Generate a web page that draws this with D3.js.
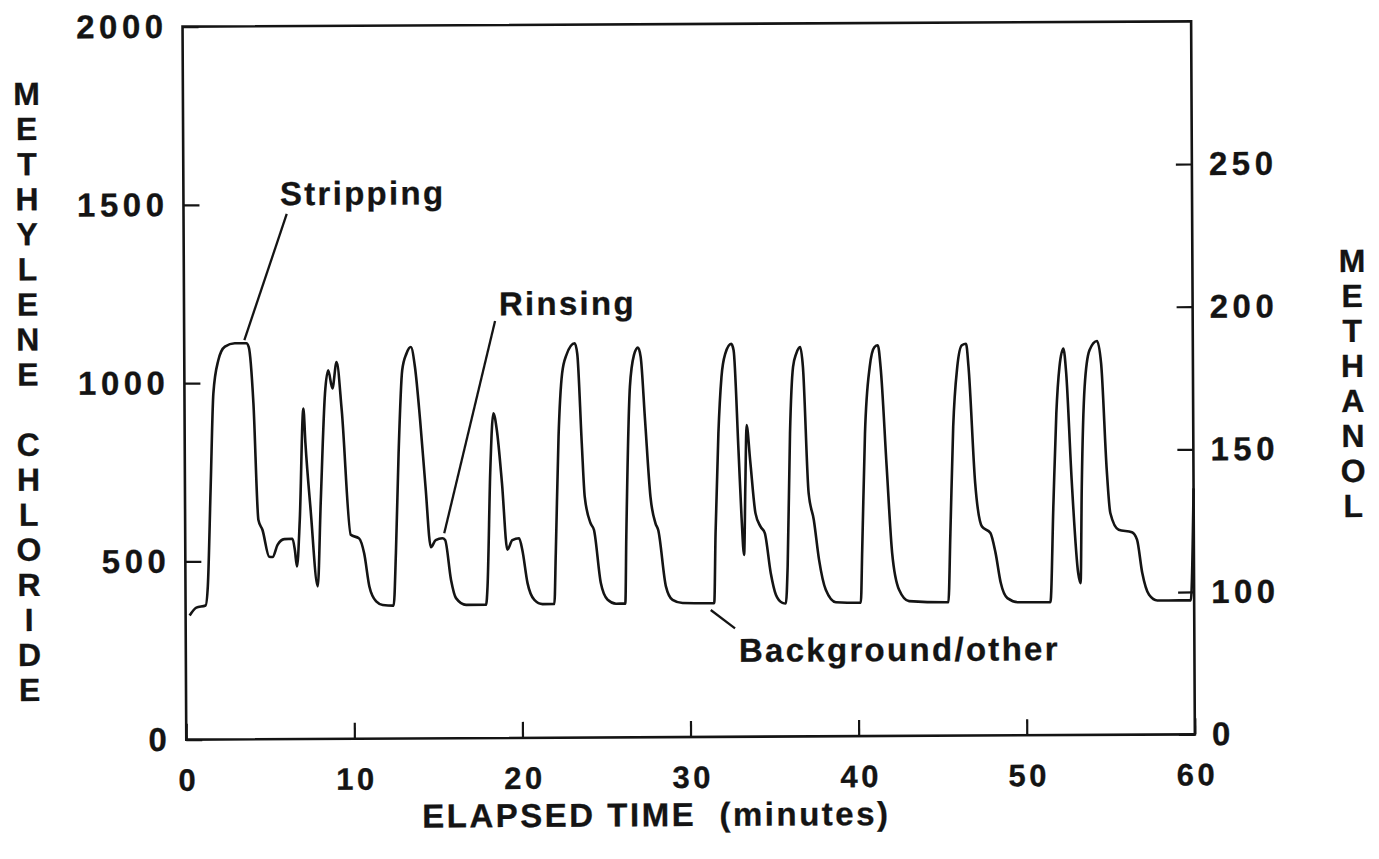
<!DOCTYPE html>
<html>
<head>
<meta charset="utf-8">
<script src="https://cdn.jsdelivr.net/npm/d3@7"></script>
<style>
body { margin: 0; background: #fff; }
text { font-family: "Liberation Sans", Arial, Helvetica, sans-serif; font-weight: bold; fill: #141414; stroke: #141414; stroke-width: 0.3px; }
</style>
</head>
<body>
<svg id="chart" width="1379" height="859"></svg>
<script>
// elapsed time (minutes)
var time = [0.24,0.64,1.19,1.33,1.53,1.72,2.02,2.42,3.01,3.70,
  3.84,4.10,4.36,4.60,4.99,5.19,5.49,5.89,6.38,6.52,
  6.64,6.82,7.07,7.18,7.47,7.87,8.07,8.36,8.56,8.80,
  9.06,9.35,9.85,10.34,10.64,10.94,11.34,11.73,12.38,12.53,
  12.72,12.96,13.22,13.48,13.72,14.01,14.31,14.61,14.90,15.30,
  15.46,15.80,16.09,16.69,17.88,17.97,18.17,18.37,18.57,18.86,
  19.16,19.46,19.86,20.05,20.35,20.75,21.24,21.94,22.04,22.24,
  22.47,22.73,23.23,23.38,23.62,23.78,24.12,24.32,24.71,25.11,
  25.61,26.16,26.24,26.50,26.75,26.99,27.15,27.39,27.69,27.98,
  28.14,28.58,28.97,29.57,31.45,31.55,31.75,31.95,32.18,32.54,
  32.68,32.94,33.10,33.24,33.34,33.43,33.63,33.93,34.23,34.48,
  34.82,35.12,35.51,35.71,35.83,36.01,36.21,36.40,36.64,36.80,
  37.10,37.40,37.70,38.09,38.69,40.17,40.27,40.47,40.77,41.06,
  41.26,41.42,41.75,42.05,42.45,43.04,45.38,45.52,45.72,45.98,
  46.26,46.51,46.65,47.01,47.40,47.90,48.20,48.50,48.89,49.58,
  51.45,51.66,51.86,52.06,52.30,52.46,52.75,53.11,53.25,53.35,
  53.55,53.85,54.30,54.54,54.84,55.04,55.53,56.32,56.62,56.92,
  57.32,57.81,59.10,59.80,60.00];

// methylene chloride reading (left axis units)
var methylene = [348,370,376,430,709,971,1063,1102,1111,1111,
  1100,942,615,587,512,511,545,561,562,530,
  484,614,927,830,642,428,661,969,1034,983,
  1057,922,572,562,520,427,385,375,373,521,
  800,1033,1080,1098,1042,893,706,536,556,561,
  556,444,393,374,374,426,752,911,864,715,
  528,555,560,527,434,387,375,375,518,844,
  1021,1073,1106,1076,825,675,601,582,433,386,
  375,375,563,983,1072,1093,1067,890,674,600,
  581,423,385,376,375,571,851,1009,1074,1102,
  1084,804,617,510,711,874,776,627,589,571,
  459,398,375,373,478,850,1036,1073,1092,1036,
  682,607,495,411,376,374,523,849,1035,1091,
  1096,1035,755,513,410,378,374,568,866,1034,
  1095,1099,1034,708,586,568,512,428,385,373,
  373,651,903,1033,1084,1014,716,454,426,696,
  976,1079,1105,1041,743,622,575,568,547,454,
  392,376,376,376,690];

var xTicks = [0,10,20,30,40,50,60];
var leftTicks = [0,500,1000,1500,2000];
var rightTicks = [0,100,150,200,250];
var leftTitle = "METHYLENE CHLORIDE";
var rightTitle = "METHANOL";
var xTitle = "ELAPSED TIME  (minutes)";

// annotation: label, where the label starts (t, v), leader line from -> to
var noteLabels = ["Stripping", "Rinsing", "Background/other"];
var noteAt = [[5.74,1498],[18.73,1186],[32.9,210]];
var noteFrom = [[6.14,1473],[18.5,1170],[31.24,356]];
var noteTo = [[3.58,1120],[15.41,575],[32.68,304]];

var ink = "#141414";
var plot = {left: 184.4, right: 1193, top: 24, bottom: 737};

var x = d3.scaleLinear().domain([0,60]).range([plot.left, plot.right]);
var yLeft = d3.scaleLinear().domain([0,2000]).range([plot.bottom, plot.top]);
// the methanol axis is broken: 0 sits at the bottom, 100..300 is linear
var yRight = d3.scaleLinear().domain([0,100,300]).range([plot.bottom, 594.6, plot.top]);

var svg = d3.select('#chart');
svg.append('rect').attr('width',1379).attr('height',859).attr('fill','#fff');

// the scanned page is a touch crooked
var g = svg.append('g').attr('transform','rotate(-0.3,689,381)');

function styleAxis(sel, size, spacing) {
    sel.select('.domain').remove();
    sel.attr('font-family', null).attr('font-size', size);
    sel.selectAll('.tick line').attr('stroke', ink).attr('stroke-width', 2.2);
    sel.selectAll('.tick text').style('letter-spacing', spacing + 'px');
}

var gl = g.append('g')
    .attr('transform','translate(' + plot.left + ',0)')
    .call(d3.axisLeft(yLeft).tickValues(leftTicks).tickFormat(d3.format('d'))
        .tickSizeInner(-16).tickSizeOuter(0).tickPadding(15));
styleAxis(gl, 33, 4.5);

var gr = g.append('g')
    .attr('transform','translate(' + plot.right + ',0)')
    .call(d3.axisRight(yRight).tickValues(rightTicks).tickFormat(d3.format('d'))
        .tickSizeInner(-16).tickSizeOuter(0).tickPadding(17));
styleAxis(gr, 33, 4.5);

var gb = g.append('g')
    .attr('transform','translate(0,' + plot.bottom + ')')
    .call(d3.axisBottom(x).tickValues(xTicks).tickFormat(d3.format('d'))
        .tickSizeInner(-16).tickSizeOuter(0).tickPadding(29));
styleAxis(gb, 31, 3.5);
gb.selectAll('.tick text').attr('dx', '1.8');

g.append('rect')
    .attr('x', plot.left).attr('y', plot.top)
    .attr('width', plot.right - plot.left).attr('height', plot.bottom - plot.top)
    .attr('fill','none').attr('stroke', ink).attr('stroke-width', 2.6);

var line = d3.line()
    .x(function(d) { return x(d[0]); })
    .y(function(d) { return yLeft(d[1]); })
    .curve(d3.curveMonotoneX);

g.append('path')
    .datum(d3.zip(time, methylene))
    .attr('d', line)
    .attr('fill','none')
    .attr('stroke', ink)
    .attr('stroke-width', 2.6)
    .attr('stroke-linejoin','round');

// annotations
g.selectAll('line.note')
    .data(noteLabels)
    .enter()
    .append('line')
    .attr('class','note')
    .attr('x1', function(d,i) { return x(noteFrom[i][0]); })
    .attr('y1', function(d,i) { return yLeft(noteFrom[i][1]); })
    .attr('x2', function(d,i) { return x(noteTo[i][0]); })
    .attr('y2', function(d,i) { return yLeft(noteTo[i][1]); })
    .attr('stroke', ink)
    .attr('stroke-width', 2.3);

g.selectAll('text.note')
    .data(noteLabels)
    .enter()
    .append('text')
    .attr('class','note')
    .attr('x', function(d,i) { return x(noteAt[i][0]); })
    .attr('y', function(d,i) { return yLeft(noteAt[i][1]); })
    .attr('font-size', 33)
    .style('letter-spacing','2.3px')
    .text(function(d) { return d; });

// stacked axis titles
g.append('g').selectAll('text')
    .data(leftTitle.split(''))
    .enter()
    .append('text')
    .attr('x', 28)
    .attr('y', function(d,i) { return 90 + i * 35.06; })
    .attr('dy','0.36em')
    .attr('text-anchor','middle')
    .attr('font-size', 32)
    .text(function(d) { return d; });

g.append('g').selectAll('text')
    .data(rightTitle.split(''))
    .enter()
    .append('text')
    .attr('x', 1352.6)
    .attr('y', function(d,i) { return 264 + i * 35; })
    .attr('dy','0.36em')
    .attr('text-anchor','middle')
    .attr('font-size', 32)
    .text(function(d) { return d; });

g.append('text')
    .attr('x', 420)
    .attr('y', 826)
    .attr('font-size', 33)
    .style('letter-spacing','2.5px')
    .style('white-space','pre')
    .text(xTitle);
</script>
</body>
</html>
